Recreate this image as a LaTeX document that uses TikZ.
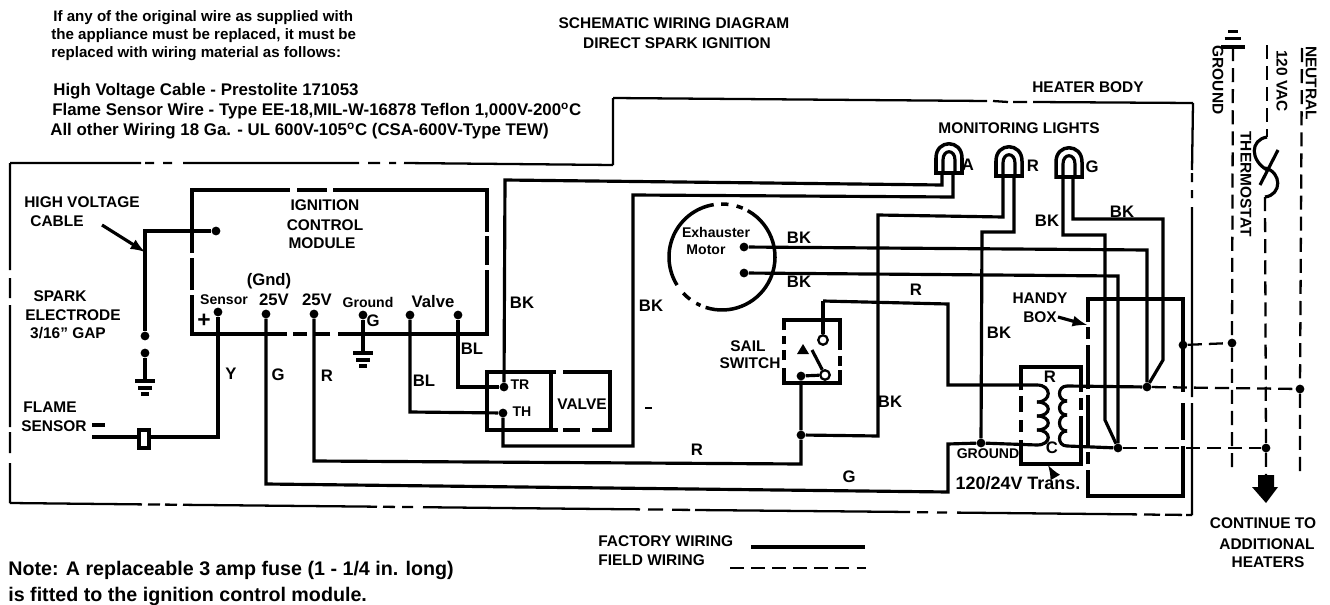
\documentclass[tikz,border=0pt]{standalone}
\usepackage{fontspec}
\setmainfont{Liberation Sans}
\tikzset{
  wire/.style={line width=1.8pt},
  field/.style={line width=1.3pt,dash pattern=on 8pt off 4pt},
  outline/.style={line width=1.3pt},
  boxline/.style={line width=2pt},
  dot/.style={circle,fill=black,inner sep=0pt,minimum size=5pt},
  opendot/.style={circle,draw,fill=white,line width=1.3pt,inner sep=0pt,minimum size=5.4pt},
  lbl/.style={font=\bfseries\fontsize{8.8}{10}\selectfont,inner sep=0pt},
  small/.style={font=\bfseries\fontsize{8}{10}\selectfont,inner sep=0pt},
  tag/.style={font=\bfseries\fontsize{9.5}{10}\selectfont,inner sep=0pt},
  para/.style={font=\bfseries\fontsize{8.6}{10}\selectfont,inner sep=0pt,anchor=west},
  parb/.style={font=\bfseries\fontsize{9.6}{10}\selectfont,inner sep=0pt,anchor=west},
  notes/.style={font=\bfseries\fontsize{11.2}{12}\selectfont,inner sep=0pt,anchor=west},
  gndsym/.pic={
    \draw[wire] (-10,0) -- (10,0);
    \draw[wire] (-7,7) -- (7,7);
    \draw[wire] (-4,13) -- (4,13);
  },
  lamp/.pic={
    \draw[boxline] (-13,15) -- (-13,0) .. controls (-13,-19) and (13,-19) .. (13,0) -- (13,15) -- cycle;
    \draw[wire] (-6,15) -- (-6,2) .. controls (-6,-9) and (6,-9) .. (6,2) -- (6,15);
  }
}
\begin{document}
\begin{tikzpicture}[x=0.02cm,y=-0.02cm]
\useasboundingbox (0,0) rectangle (1330,605);

\node[para] (noteA) at (53,18) {If any of the original wire as supplied with};
\node[para] (noteB) at (51,36) {the appliance must be replaced, it must be};
\node[para] (noteC) at (51,54) {replaced with wiring material as follows:};
\node[parb] (noteD) at (53,91) {High Voltage Cable - Prestolite 171053};
\node[parb] (noteE) at (52,111) {Flame Sensor Wire - Type EE-18,MIL-W-16878 Teflon 1,000V-200\textsuperscript{o}C};
\node[parb] (noteF) at (50,131) {All other Wiring 18 Ga. - UL 600V-105\textsuperscript{o}C (CSA-600V-Type TEW)};
\node[lbl] (titleA) at (674,23) {SCHEMATIC WIRING DIAGRAM};
\node[lbl] (titleB) at (677,43) {DIRECT SPARK IGNITION};
\node[notes] (fuseA) at (8,570) {Note: A replaceable 3 amp fuse (1 - 1/4 in. long)};
\node[notes] (fuseB) at (8,596) {is fitted to the ignition control module.};
\node[lbl,anchor=west] (factory) at (598,541) {FACTORY WIRING};
\node[lbl,anchor=west] (fieldw) at (598,560) {FIELD WIRING};
\coordinate (facA) at (751,547);
\coordinate (facB) at (865,547);
\coordinate (fldA) at (730,568);
\coordinate (fldB) at (866,568);
\draw[wire] (facA) -- (facB);
\draw[field] (fldA) -- (fldB);

\draw[outline] (613,98) -- (613,165)
  (404,163) -- (613,165) (389,163) -- (396,163) (368,163) -- (380,163) (183,163) -- (359,163)
  (163,163) -- (172,163) (145,163) -- (154,163) (10,163) -- (141,163)
  (10,163) -- (10,270) (10,278) -- (10,298) (10,305) -- (10,427) (10,432) -- (10,453) (10,463) -- (10,503)
  (10,503) -- (142,504.4) (148,504.4) -- (160,504.6) (165,504.6) -- (177,504.7) (183,504.8) -- (377,506.7)
  (383,506.8) -- (395,506.9) (402,507) -- (413,507) (423,507.2) -- (640,509.4) (648,509.5) -- (663,509.6)
  (672,509.8) -- (690,509.9) (695,510) -- (910,512) (917,512.2) -- (928,512.3) (937,512.4) -- (947,512.5)
  (957,512.6) -- (1137,514.4) (1144,514.5) -- (1160,514.7) (1165,514.7) -- (1182,514.9) (1186,515) -- (1192,515)
  (1192,515) -- (1192,403) (1192,397) -- (1192,207) (1192,198) -- (1192,190) (1192,182) -- (1192,173) (1192,170) -- (1193,103)
  (1193,103) -- (1033,102) (1027,102) -- (1013,102) (1008,102) -- (993,101) (987,101) -- (613,98);

\draw[boxline] (192,253) -- (192,190) -- (290,190) (297,190) -- (327,190) (333,190) -- (487,190) -- (487,232)
  (487,236) -- (487,265) (487,270) -- (487,334) -- (338,334) (330,334) -- (313,334) (307,334) -- (293,334) (287,334) -- (192,334) -- (192,295)
  (192,290) -- (192,258);

\draw[boxline] (548,372) -- (487,372) -- (487,430) -- (558,430) (563,430) -- (580,430) (592,430) -- (610,430) -- (610,372) -- (563,372);
\draw[boxline] (545,372) -- (556,372) (551,372) -- (551,430);

\draw[boxline] (784,330) -- (784,320) -- (840,320) -- (840,350) (840,356) -- (840,366) (840,370) -- (840,383) -- (784,383) -- (784,368)
  (784,360) -- (784,350) (784,344) -- (784,336);

\draw[boxline] (1021,390) -- (1021,367) -- (1081,367) -- (1081,392) (1081,398) -- (1081,410) (1081,416) -- (1081,464) -- (1021,464) -- (1021,440)
  (1021,432) -- (1021,420) (1021,412) -- (1021,396);

\draw[boxline] (1088,322) -- (1088,299) -- (1183,299) -- (1183,392) (1183,403) -- (1183,440) (1183,446) -- (1183,496) -- (1088,496) -- (1088,470)
  (1088,464) -- (1088,452) (1088,446) -- (1088,395) (1088,389) -- (1088,345) (1088,339) -- (1088,327);

\coordinate (motor) at (722,257);
\draw[boxline] (motor) ++(-99:53) arc[start angle=-99,end angle=-212,radius=53];
\draw[boxline] (motor) ++(-61:53) arc[start angle=-61,end angle=108,radius=53];
\draw[boxline] (motor) ++(-83:53) arc[start angle=-83,end angle=-91,radius=53];
\draw[boxline] (motor) ++(-67:53) arc[start angle=-67,end angle=-74,radius=53];
\draw[boxline] (motor) ++(127:53) arc[start angle=127,end angle=137,radius=53];
\draw[boxline] (motor) ++(114:53) arc[start angle=114,end angle=119,radius=53];

\node[dot] (hvEnd) at (216,231) {};
\node[dot] (sparkA) at (145,336) {};
\node[dot] (sparkB) at (145,353) {};
\node[dot] (tSensor) at (218,312) {};
\node[dot] (tGnd) at (266,314) {};
\node[dot] (tVolt) at (314,314) {};
\node[dot] (tGround) at (363,315) {};
\node[dot] (tValveA) at (410,315) {};
\node[dot] (tValveB) at (458,315) {};
\node[dot] (tTR) at (504,387) {};
\node[dot] (tTH) at (503,413) {};
\node[dot] (motorA) at (744,247) {};
\node[dot] (motorB) at (744,273) {};
\node[dot] (sailDot) at (801,376) {};
\node[dot] (sailJoin) at (801,435) {};
\node[dot] (grdDot) at (981,443) {};
\node[dot] (hotDot) at (1147,387) {};
\node[dot] (comDot) at (1118,448) {};
\node[dot] (boxDot) at (1183,345) {};
\node[dot] (grdLine) at (1232,343) {};
\node[dot] (neuDot) at (1300,389) {};
\node[dot] (hotLine) at (1266,448) {};

\coordinate (hvCorner) at (145,231);
\coordinate (hvFrom) at (102,225);
\coordinate (hvTo) at (145,252);
\coordinate (gndA) at (145,381);
\coordinate (gndB) at (363,353);
\coordinate (sensTop) at (92,437);
\coordinate (sensCorner) at (218,437);
\coordinate (gCorner) at (266,484);
\coordinate (gEnd) at (948,492);
\coordinate (gUp) at (948,444);
\coordinate (coilPb) at (1037,445);
\coordinate (rCorner) at (314,461);
\coordinate (rEnd) at (801,464);
\coordinate (blA) at (410,412);
\coordinate (blB) at (458,387);
\coordinate (lampAl) at (942,174);
\coordinate (lampAr) at (953,174);
\coordinate (aTop) at (505,180);
\coordinate (aTopR) at (942,185);
\coordinate (aLow) at (633,195);
\coordinate (aLowR) at (953,197);
\coordinate (aBot) at (633,446);
\coordinate (aBotL) at (503,446);
\coordinate (lampRl) at (1003,176);
\coordinate (lampRr) at (1014,176);
\coordinate (joinR) at (878,436);
\coordinate (upR) at (878,215);
\coordinate (rightR) at (1003,217);
\coordinate (lowR) at (1014,232);
\coordinate (lowRl) at (982,232);
\coordinate (lampGl) at (1063,177);
\coordinate (lampGr) at (1073,177);
\coordinate (gLa) at (1063,235);
\coordinate (gLb) at (1105,235);
\coordinate (gLc) at (1105,420);
\coordinate (gRa) at (1073,219);
\coordinate (gRb) at (1163,219);
\coordinate (gRc) at (1163,360);
\coordinate (mAr) at (1147,250);
\coordinate (mBr) at (1118,276);
\coordinate (sailTop) at (823,301);
\coordinate (sailRight) at (948,304);
\coordinate (sailDown) at (948,385);
\coordinate (coilPa) at (1037,385);
\coordinate (coilSa) at (1067,386);
\coordinate (coilSb) at (1067,446);
\coordinate (grdTop) at (1233,47);
\coordinate (grdEnd) at (1232,472);
\coordinate (acTop) at (1267,45);
\coordinate (acSw) at (1267,137);
\coordinate (acLow) at (1265,197);
\coordinate (acEnd) at (1266,475);
\coordinate (neuTop) at (1302,48);
\coordinate (neuEnd) at (1300,473);
\coordinate (bladeA) at (1278,150);
\coordinate (bladeB) at (1260,185);
\coordinate (swMid) at (1267,170);
\coordinate (swMidB) at (1265,168);
\coordinate (boxFrom) at (1058,317);
\coordinate (boxTo) at (1087,325);
\coordinate (transA) at (1048,465);
\coordinate (transB) at (1055,477);
\coordinate (tickA) at (645,408);
\coordinate (tickB) at (652,408);
\coordinate (flameA) at (92,425);
\coordinate (flameB) at (105,425);

\draw[wire] (hvEnd) -- (hvCorner) -- (sparkA);
\draw[wire,-latex] (hvFrom) -- (hvTo);
\draw[wire] (sparkB) -- (gndA);
\draw[wire] (tGround) -- (gndB);
\pic at (gndA) {gndsym};
\pic at (gndB) {gndsym};

\draw[wire] (flameA) -- (flameB);
\draw[wire] (sensTop) -- (sensCorner) -- (tSensor);
\draw[wire,fill=white] (139,430) rectangle (149,448);

\draw[wire] (tGnd) -- (gCorner) -- (gEnd) -- (gUp) -- (grdDot) -- (coilPb);
\draw[wire] (tVolt) -- (rCorner) -- (rEnd) -- (sailJoin) -- (sailDot);
\draw[wire] (tValveB) -- (blB) -- (tTR);
\draw[wire] (tValveA) -- (blA) -- (tTH);

\pic at (949,158) {lamp};
\pic at (1009,161) {lamp};
\pic at (1069,162) {lamp};

\draw[wire] (tTR) -- (aTop) -- (aTopR) -- (lampAl);
\draw[wire] (tTH) -- (aBotL) -- (aBot) -- (aLow) -- (aLowR) -- (lampAr);
\draw[wire] (sailJoin) -- (joinR) -- (upR) -- (rightR) -- (lampRl);
\draw[wire] (lampRr) -- (lowR) -- (lowRl) -- (grdDot);
\draw[wire] (lampGl) -- (gLa) -- (gLb) -- (gLc) -- (comDot);
\draw[wire] (lampGr) -- (gRa) -- (gRb) -- (gRc) -- (hotDot);
\draw[wire] (motorA) -- (mAr) -- (hotDot);
\draw[wire] (motorB) -- (mBr) -- (comDot);

\node[opendot] (sailOpen) at (823,340) {};
\node[opendot] (sailCom) at (825,375) {};
\draw[wire] (sailTop) -- (sailOpen);
\draw[wire] (sailTop) -- (sailRight) -- (sailDown) -- (coilPa);
\draw[wire] (sailDot) -- (sailCom);
\draw[wire] (sailCom) -- (812,350);
\fill (797,354) -- (803,344) -- (809,354) -- cycle;

\foreach \ya/\yb in {385/402,402/416,416/430,430/445}
  \draw[wire] (1037,\ya) .. controls (1052,\ya) and (1052,\yb) .. (1037,\yb);
\foreach \ya/\yb in {386/401,401/415,415/431,431/446}
  \draw[wire] (1067,\ya) .. controls (1057,\ya) and (1057,\yb) .. (1067,\yb);
\draw[wire] (coilSa) -- (hotDot);
\draw[wire] (coilSb) -- (comDot);

\draw[field] (boxDot) -- (grdLine);
\draw[field] (hotDot) -- (neuDot);
\draw[field] (comDot) -- (hotLine);
\draw[field] (grdTop) -- (grdLine) -- (grdEnd);
\draw[field] (acTop) -- (acSw);
\draw[field] (acLow) -- (hotLine) -- (acEnd);
\draw[field] (neuTop) -- (neuDot) -- (neuEnd);
\pic[yscale=-1,scale=1.2] at (grdTop) {gndsym};

\draw[wire] (acSw) .. controls (1250,140) and (1250,160) .. (swMid);
\draw[wire] (swMidB) .. controls (1282,172) and (1282,195) .. (acLow);
\draw[wire] (bladeA) -- (bladeB);

\draw[wire,-latex] (boxFrom) -- (boxTo);
\draw[wire,-latex] (transB) -- (transA);
\draw[outline] (tickA) -- (tickB);

\fill (1258,475) -- (1274,475) -- (1274,487) -- (1278,487) -- (1266,503) -- (1252,487) -- (1258,487) -- cycle;

\node[lbl] (lblHigh) at (82,202) {HIGH VOLTAGE};
\node[lbl] (lblCable) at (57,221) {CABLE};
\node[lbl] (lblSpark) at (60,296) {SPARK};
\node[lbl] (lblElec) at (73,315) {ELECTRODE};
\node[lbl] (lblGap) at (68,333) {3/16" GAP};
\node[lbl] (lblFlame) at (50,407) {FLAME};
\node[lbl] (lblSensor) at (54,426) {SENSOR};
\node[lbl] (lblIgn) at (325,205) {IGNITION};
\node[lbl] (lblCtl) at (325,225) {CONTROL};
\node[lbl] (lblMod) at (322,243) {MODULE};
\node[tag] (lblGnd) at (269,281) {(Gnd)};
\node[small] (lblSen) at (224,300) {Sensor};
\node[tag] (lblVa) at (274,300) {25V};
\node[tag] (lblVb) at (317,300) {25V};
\node[small] (lblGro) at (368,302) {Ground};
\node[tag] (lblVal) at (433,302) {Valve};
\node[font=\bfseries\fontsize{13}{13}\selectfont,inner sep=0pt] (lblPlus) at (204,321) {+};
\node[tag] (lblG) at (373,321) {G};
\node[tag] (lblBLa) at (472,349) {BL};
\node[tag] (lblY) at (231,374) {Y};
\node[tag] (lblGb) at (278,375) {G};
\node[tag] (lblRa) at (327,376) {R};
\node[tag] (lblBLb) at (424,381) {BL};
\node[tag] (lblBKa) at (522,303) {BK};
\node[tag] (lblBKb) at (651,306) {BK};
\node[small] (lblTR) at (520,385) {TR};
\node[small] (lblTH) at (522,412) {TH};
\node[lbl] (lblValve) at (582,404) {VALVE};
\node[tag] (lblRb) at (697,450) {R};
\node[tag] (lblGc) at (849,477) {G};
\node[tag] (lblBKc) at (890,402) {BK};
\node[small] (lblExh) at (716,232) {Exhauster};
\node[small] (lblMot) at (706,250) {Motor};
\node[tag] (lblBKd) at (799,238) {BK};
\node[tag] (lblBKe) at (799,282) {BK};
\node[lbl] (lblSail) at (748,346) {SAIL};
\node[lbl] (lblSwitch) at (750,363) {SWITCH};
\node[tag] (lblRc) at (916,290) {R};
\node[tag] (lblBKf) at (999,333) {BK};
\node[tag] (lblBKg) at (1047,221) {BK};
\node[tag] (lblBKh) at (1122,212) {BK};
\node[lbl] (lblMon) at (1019,128) {MONITORING LIGHTS};
\node[tag] (lblA) at (968,165) {A};
\node[tag] (lblR) at (1033,166) {R};
\node[tag] (lblGd) at (1092,167) {G};
\node[lbl] (lblBody) at (1088,87) {HEATER BODY};
\node[lbl] (lblHandy) at (1040,298) {HANDY};
\node[lbl] (lblBox) at (1040,317) {BOX};
\node[tag] (lblPr) at (1050,377) {R};
\node[tag] (lblPc) at (1052,448) {C};
\node[small] (lblGrT) at (988,454) {GROUND};
\node[font=\bfseries\fontsize{10.2}{12}\selectfont,inner sep=0pt] (lblTrans) at (1018,483) {120/24V Trans.};
\node[lbl] (lblContA) at (1263,523) {CONTINUE TO};
\node[lbl] (lblContB) at (1267,544) {ADDITIONAL};
\node[lbl] (lblContC) at (1268,562) {HEATERS};
\node[lbl,rotate=-90] (lblEarth) at (1218,80) {GROUND};
\node[lbl,rotate=-90] (lblVac) at (1282,81) {120 VAC};
\node[lbl,rotate=-90] (lblTherm) at (1246,184) {THERMOSTAT};
\node[lbl,rotate=-90] (lblNeu) at (1311,83) {NEUTRAL};
\end{tikzpicture}
\end{document}
